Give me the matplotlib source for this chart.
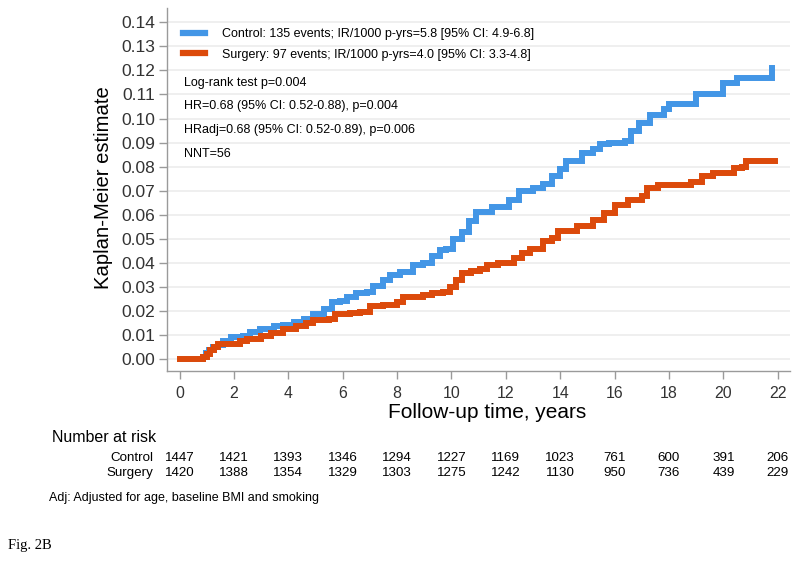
import matplotlib
matplotlib.use("Agg")
import matplotlib.pyplot as plt
import matplotlib.transforms as mtransforms
from matplotlib.lines import Line2D

# ---------------- data ----------------
control_t = [0, 0.72, 0.85, 0.98, 1.1, 1.24, 1.42, 1.6, 1.9, 2.33, 2.6, 2.97, 3.46, 3.8, 4.2,
             4.56, 4.9, 5.3, 5.6, 5.9, 6.14, 6.5, 6.88, 7.12, 7.5, 7.74, 8.1, 8.6, 8.96, 9.3,
             9.57, 9.8, 10.06, 10.4, 10.65, 10.9, 11.5, 12.1, 12.5, 13.0, 13.35, 13.7, 14.0,
             14.2, 14.8, 15.2, 15.45, 15.8, 16.4, 16.6, 16.9, 17.3, 17.8, 18.0, 19.0, 20.0,
             20.5, 21.8]
control_v = [0, 0.0, 0.001, 0.0025, 0.004, 0.0053, 0.0062, 0.0075, 0.0094, 0.0096, 0.0113,
             0.0127, 0.0138, 0.0145, 0.0155, 0.0169, 0.0187, 0.0208, 0.0240, 0.0242, 0.026,
             0.0275, 0.0278, 0.0303, 0.033, 0.035, 0.0365, 0.039, 0.040, 0.043, 0.0455, 0.046,
             0.050, 0.053, 0.0575, 0.0612, 0.0632, 0.066, 0.0700, 0.0712, 0.0730, 0.0762,
             0.0790, 0.0825, 0.0855, 0.0875, 0.0895, 0.0900, 0.0908, 0.0948, 0.0980, 0.1015,
             0.1040, 0.1060, 0.1100, 0.1147, 0.1170, 0.1210]

surgery_t = [0, 0.75, 0.87, 1.0, 1.12, 1.27, 1.42, 1.97, 2.22, 2.47, 3.0, 3.37, 3.8, 4.3, 4.65,
             4.9, 5.5, 5.7, 6.27, 6.63, 7.0, 7.5, 7.98, 8.2, 8.96, 9.3, 9.7, 9.94, 10.18,
             10.37, 10.7, 11.04, 11.3, 11.7, 12.3, 12.6, 12.9, 13.35, 13.7, 13.9, 14.6, 15.2,
             15.6, 16.0, 16.5, 17.0, 17.2, 17.6, 18.8, 19.2, 19.6, 20.4, 20.7, 20.85, 21.9]
surgery_v = [0, 0.0, 0.001, 0.0022, 0.0039, 0.0052, 0.0063, 0.0066, 0.0075, 0.0085, 0.0099,
             0.011, 0.0125, 0.0139, 0.0153, 0.0164, 0.0168, 0.019, 0.0193, 0.0196, 0.022,
             0.0224, 0.024, 0.026, 0.0266, 0.0275, 0.028, 0.030, 0.033, 0.036, 0.0367, 0.0374,
             0.039, 0.040, 0.042, 0.044, 0.046, 0.049, 0.0505, 0.0535, 0.0556, 0.0580, 0.0610,
             0.0642, 0.0660, 0.0680, 0.0710, 0.0725, 0.0738, 0.0760, 0.0772, 0.0794, 0.0800,
             0.0822, 0.0822]

risk_times = [0, 2, 4, 6, 8, 10, 12, 14, 16, 18, 20, 22]
risk_control = [1447, 1421, 1393, 1346, 1294, 1227, 1169, 1023, 761, 600, 391, 206]
risk_surgery = [1420, 1388, 1354, 1329, 1303, 1275, 1242, 1130, 950, 736, 439, 229]

y_ticks = [0.00, 0.01, 0.02, 0.03, 0.04, 0.05, 0.06, 0.07, 0.08, 0.09, 0.10, 0.11, 0.12, 0.13, 0.14]
x_ticks = [0, 2, 4, 6, 8, 10, 12, 14, 16, 18, 20, 22]

legend_labels = ["Control: 135 events; IR/1000 p-yrs=5.8 [95% CI: 4.9-6.8]",
                 "Surgery: 97 events; IR/1000 p-yrs=4.0 [95% CI: 3.3-4.8]"]
stats_lines = ["Log-rank test p=0.004",
               "HR=0.68 (95% CI: 0.52-0.88), p=0.004",
               "HRadj=0.68 (95% CI: 0.52-0.89), p=0.006",
               "NNT=56"]

# ---------------- style ----------------
BLUE = "#4396e6"
ORANGE = "#dc4a0b"
GRID = "#ececec"
SPINE = "#9a9a9a"
TXT = "#333333"

plt.rcParams['font.family'] = ['Liberation Sans', 'DejaVu Sans']

W, H = 800, 572
fig = plt.figure(figsize=(8.0, 5.72), dpi=100)

def fx(px):
    return px / W

def fy(py):
    return 1 - py / H

ax_left, ax_right, ax_top, ax_bottom = 166.5, 790, 8, 371
ax_w = ax_right - ax_left
ax_h = ax_bottom - ax_top
ax = fig.add_axes([fx(ax_left), fy(ax_bottom), ax_w / W, ax_h / H])

ax.plot(control_t, control_v, drawstyle='steps-post', color=BLUE, lw=4.3,
        solid_joinstyle='miter', zorder=3)
ax.plot(surgery_t, surgery_v, drawstyle='steps-post', color=ORANGE, lw=4.3,
        solid_joinstyle='miter', zorder=4)

ax.set_xlim(-0.48, 22.45)
ax.set_ylim(-0.0048, 0.1459)
ax.set_yticks(y_ticks)
ax.set_yticklabels([f"{v:.2f}" for v in y_ticks])
ax.set_xticks(x_ticks)
ax.set_xticklabels([str(v) for v in x_ticks])
ax.yaxis.grid(True, color=GRID, lw=1.2)
ax.set_axisbelow(True)

for s in ['top', 'right']:
    ax.spines[s].set_visible(False)
for s in ['left', 'bottom']:
    ax.spines[s].set_color(SPINE)
    ax.spines[s].set_linewidth(1.0)

ax.tick_params(axis='y', direction='out', length=6, width=1, color=SPINE,
               labelsize=12.5, labelcolor=TXT, pad=2)
ax.tick_params(axis='x', direction='out', length=6, width=1, color=SPINE,
               labelsize=11.4, labelcolor=TXT, pad=5)

fig.text(fx(103.5), fy(188), "Kaplan-Meier estimate", fontsize=14.6, rotation=90,
         ha='center', va='center', color='black')
fig.text(fx(487), fy(413), "Follow-up time, years", fontsize=15.0, ha='center', va='center',
         color='black')

# legend
handles = [Line2D([0], [0], color=BLUE, lw=4.5), Line2D([0], [0], color=ORANGE, lw=4.5)]
leg_fs = 9.0
anchor_x = (182.5 - ax_left) / ax_w
anchor_y = 1 - (28.5 - ax_top) / ax_h
leg = ax.legend(handles, legend_labels, loc='upper left', bbox_to_anchor=(anchor_x, anchor_y),
                frameon=False, fontsize=leg_fs, handlelength=1.8, handletextpad=1.35,
                labelspacing=0.66, borderaxespad=0, borderpad=0)

stat_y = [82.7, 106, 129.5, 154.3]
for txt, yy in zip(stats_lines, stat_y):
    fig.text(fx(184), fy(yy), txt, fontsize=leg_fs, ha='left', va='center', color='black')

# Number at risk table
fig.text(fx(52), fy(438), "Number at risk", fontsize=11.5, ha='left', va='center', color='black')
trans = mtransforms.blended_transform_factory(ax.transData, fig.transFigure)
fig.text(fx(153), fy(458.3), "Control", fontsize=9.6, ha='right', va='center')
fig.text(fx(153), fy(473), "Surgery", fontsize=9.6, ha='right', va='center')
for t, c, s in zip(risk_times, risk_control, risk_surgery):
    fig.text(t, fy(458.3), str(c), transform=trans, fontsize=9.6, ha='center', va='center')
    fig.text(t, fy(473), str(s), transform=trans, fontsize=9.6, ha='center', va='center')

fig.text(fx(49), fy(498), "Adj: Adjusted for age, baseline BMI and smoking", fontsize=9.0,
         ha='left', va='center')
fig.text(fx(8), fy(546), "Fig. 2B", fontsize=10.5, ha='left', va='center',
         family=['Liberation Serif', 'DejaVu Serif'])

fig.savefig("out.png", dpi=100)
